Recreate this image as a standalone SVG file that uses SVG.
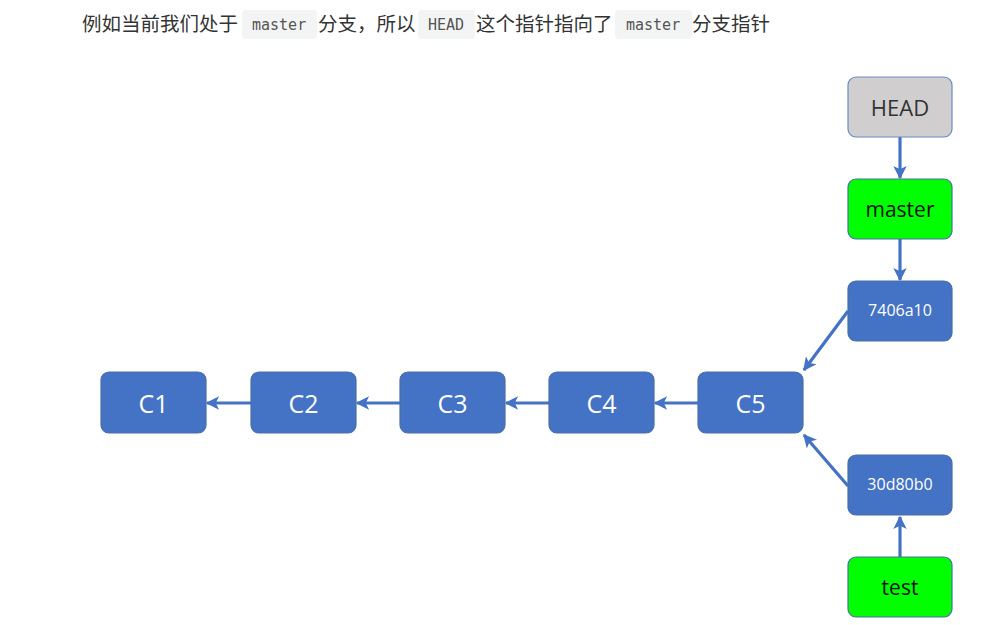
<svg xmlns="http://www.w3.org/2000/svg" width="1000" height="625" viewBox="0 0 1000 625">
<style>
.t{font-family:"Noto Sans CJK SC","Noto Sans",sans-serif;font-size:19.5px;fill:#333}
.code{fill:#f3f4f4}
.ct{font-family:"DejaVu Sans Mono","Liberation Mono",monospace;font-size:15px;fill:#555}
.box{stroke:#4a6fa8;stroke-width:1.2}
.blue{fill:#4472c4}
.green{fill:#00ff00}
.gray{fill:#d0cece;stroke:#6a8cc4}
.lbl{font-family:"Open Sans","Noto Sans",sans-serif;text-anchor:middle;dominant-baseline:central}
.big{font-size:25px;fill:#fff}
.sm{font-size:16px;fill:#fff}
.mid{font-size:21px;fill:#111}
.hd{font-size:22px;fill:#333}
.edge{stroke:#4472c4;stroke-width:3.2;fill:none;marker-end:url(#ah)}
</style>
<defs>
<marker id="ah" viewBox="0 0 10 10" refX="9" refY="5" markerWidth="4.6" markerHeight="4.2" orient="auto" markerUnits="strokeWidth">
<path d="M0,0 L10,5 L0,10 L2.5,5 Z" fill="#4472c4"/>
</marker>
</defs>
<rect width="1000" height="625" fill="#fff"/>
<g id="caption">
<rect class="code" x="242" y="10" width="75" height="29" rx="4"/>
<rect class="code" x="418" y="10" width="57" height="29" rx="4"/>
<rect class="code" x="615" y="10" width="77" height="29" rx="4"/>
<text class="t" x="82" y="31">例如当前我们处于</text>
<text class="ct" x="252" y="30">master</text>
<text class="t" x="318" y="31">分支，所以</text>
<text class="ct" x="428" y="30">HEAD</text>
<text class="t" x="476" y="31">这个指针指向了</text>
<text class="ct" x="626" y="30">master</text>
<text class="t" x="692" y="31">分支指针</text>
</g>
<g id="connectors">
<line class="edge" x1="251" y1="403" x2="207" y2="403"/>
<line class="edge" x1="400" y1="403" x2="357" y2="403"/>
<line class="edge" x1="549" y1="403" x2="506" y2="403"/>
<line class="edge" x1="698" y1="403" x2="655" y2="403"/>
<line class="edge" x1="900" y1="137" x2="900" y2="178"/>
<line class="edge" x1="900" y1="239" x2="900" y2="280"/>
<line class="edge" x1="848" y1="311" x2="804" y2="370"/>
<line class="edge" x1="848" y1="486" x2="804" y2="435"/>
<line class="edge" x1="900" y1="557" x2="900" y2="517"/>
</g>
<g id="C1"><rect class="box blue" x="101" y="372" width="105" height="61" rx="8"/><text class="lbl big" x="153.5" y="403">C1</text></g>
<g id="C2"><rect class="box blue" x="251" y="372" width="105" height="61" rx="8"/><text class="lbl big" x="303.5" y="403">C2</text></g>
<g id="C3"><rect class="box blue" x="400" y="372" width="105" height="61" rx="8"/><text class="lbl big" x="452.5" y="403">C3</text></g>
<g id="C4"><rect class="box blue" x="549" y="372" width="105" height="61" rx="8"/><text class="lbl big" x="601.5" y="403">C4</text></g>
<g id="C5"><rect class="box blue" x="698" y="372" width="105" height="61" rx="8"/><text class="lbl big" x="750.5" y="403">C5</text></g>
<g id="HEAD"><rect class="box gray" x="848" y="77" width="104" height="60" rx="8"/><text class="lbl hd" x="900" y="107">HEAD</text></g>
<g id="master"><rect class="box green" x="848" y="179" width="104" height="60" rx="8"/><text class="lbl mid" x="900" y="209">master</text></g>
<g id="c7406a10"><rect class="box blue" x="848" y="281" width="104" height="60" rx="8"/><text class="lbl sm" x="900" y="310">7406a10</text></g>
<g id="c30d80b0"><rect class="box blue" x="848" y="455" width="104" height="60" rx="8"/><text class="lbl sm" x="900" y="484">30d80b0</text></g>
<g id="test"><rect class="box green" x="848" y="557" width="104" height="60" rx="8"/><text class="lbl mid" x="900" y="587">test</text></g>
</svg>
